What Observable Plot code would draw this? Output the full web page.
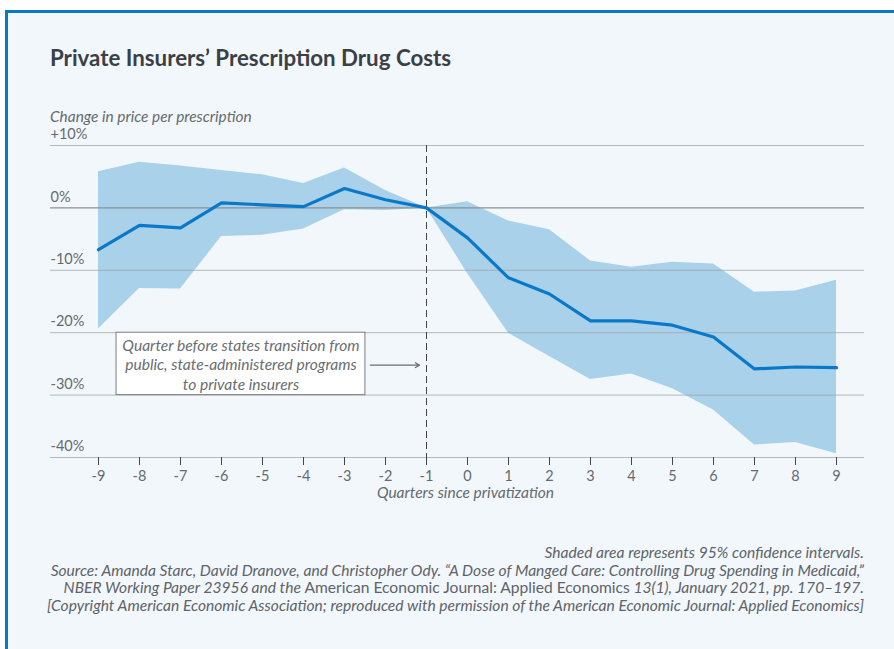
<!DOCTYPE html>
<html>
<head>
<meta charset="utf-8">
<script src="https://cdn.jsdelivr.net/npm/d3@7"></script>
<script src="https://cdn.jsdelivr.net/npm/@observablehq/plot@0.6"></script>
<style>
  html, body { margin: 0; padding: 0; background: #ffffff; width: 894px; height: 649px; overflow: hidden; }
  body { font-family: Lato, "Open Sans", sans-serif; position: relative; }
  .card { position: absolute; left: 5px; top: 10px; right: 0; bottom: 0; border-top: 3px solid #0a78c8; border-left: 3px solid #0a78c8; background: #f2f7fc; }
  .title { position: absolute; left: 42px; top: 33px; font-size: 22.3px; line-height: 24px; font-weight: 700; color: #3b4045; white-space: nowrap; }
  .sub { position: absolute; left: 42px; top: 94px; font-size: 15.4px; line-height: 18px; font-style: italic; color: #666a6e; white-space: nowrap; }
  #chart { position: absolute; left: -8px; top: 111px; }
  .cap { position: absolute; right: 30px; top: 531px; text-align: right; font-size: 15.6px; line-height: 17.6px; font-style: italic; color: #5f6368; white-space: nowrap; }
  .cap .up { font-style: normal; }
</style>
</head>
<body>
<div class="card">
  <div class="title">Private Insurers’ Prescription Drug Costs</div>
  <div class="sub">Change in price per prescription</div>
  <div id="chart"></div>
  <div class="cap">Shaded area represents 95% confidence intervals.<br>Source: Amanda Starc, David Dranove, and Christopher Ody. “A Dose of Manged Care: Controlling Drug Spending in Medicaid,”<br>NBER Working Paper 23956 and the <span class="up">American Economic Journal: Applied Economics</span> 13(1), January 2021, pp. 170–197.<br>[Copyright American Economic Association; reproduced with permission of the American Economic Journal: Applied Economics]</div>
</div>
<script>
const quarters = [-9, -8, -7, -6, -5, -4, -3, -2, -1, 0, 1, 2, 3, 4, 5, 6, 7, 8, 9];
const estimate = [-6.7, -2.8, -3.2, 0.8, 0.5, 0.2, 3.1, 1.3, 0, -4.8, -11.2, -13.8, -18.1, -18.1, -18.8, -20.7, -25.8, -25.5, -25.6];
const upper    = [5.8, 7.3, 6.7, 6.0, 5.3, 3.9, 6.4, 2.8, 0, 1.0, -2.1, -3.5, -8.5, -9.5, -8.7, -9.0, -13.5, -13.3, -11.6];
const lower    = [-19.4, -12.9, -13.0, -4.6, -4.4, -3.4, -0.3, -0.4, 0, -10.5, -20.1, -23.8, -27.5, -26.6, -29.0, -32.4, -38.0, -37.6, -39.4];

const yTicks = [10, 0, -10, -20, -30, -40];
const yTickLabels = ["+10%", "0%", "-10%", "-20%", "-30%", "-40%"];
const xTicks = quarters;

const eventQuarter = [-1];
const annotationText = ["Quarter before states transition from\npublic, state-administered programs\nto private insurers"];
const annotationBox = [{x1: -8.56, x2: -2.49, y1: -30, y2: -20}];
const annotationArrow = [{x1: -2.37, x2: -1.17, y: -25.2}];
const xLabel = ["Quarters since privatization"];

const data = quarters.map((q, i) => ({q, est: estimate[i], hi: upper[i], lo: lower[i]}));
const yLab = yTicks.map((v, i) => ({v, t: yTickLabels[i]}));

const chart = Plot.plot({
  width: 894,
  height: 386,
  marginLeft: 50,
  marginRight: 30,
  marginTop: 21,
  marginBottom: 53,
  style: {background: "transparent", fontFamily: "Lato, 'Open Sans', sans-serif"},
  x: {domain: [-9, 9], insetLeft: 48, insetRight: 28},
  y: {domain: [-40, 10]},
  marks: [
    Plot.areaY(data, {x: "q", y1: "lo", y2: "hi", fill: "#a9d1ea"}),
    Plot.ruleY(yTicks.filter(d => d !== 0), {stroke: "#9ea3a8", strokeOpacity: 0.75}),
    Plot.ruleY([0], {stroke: "#8b8f94", strokeWidth: 1.3}),
    Plot.ruleX(eventQuarter, {stroke: "#444", strokeDasharray: "7,4"}),
    Plot.axisX({ticks: xTicks, tickSize: 8, tickPadding: 5, tickFormat: d => String(d), label: null, stroke: "#444", fill: "#666a6e", fontSize: 14.5}),
    Plot.axisY({ticks: [], label: null}),
    Plot.text(yLab, {y: "v", text: "t", frameAnchor: "left", textAnchor: "start", dy: -11, fill: "#666a6e", fontSize: 14.5}),
    Plot.line(data, {x: "q", y: "est", stroke: "#0a78c8", strokeWidth: 3.2}),
    Plot.rect(annotationBox, {x1: "x1", x2: "x2", y1: "y1", y2: "y2", fill: "white", stroke: "#7a7e82"}),
    Plot.text(annotationText, {x: d => (annotationBox[0].x1 + annotationBox[0].x2) / 2, y: d => (annotationBox[0].y1 + annotationBox[0].y2) / 2, text: d => d, fontSize: 15.6, fontStyle: "italic", fill: "#6a6e72", lineHeight: 1.25, lineAnchor: "middle"}),
    Plot.arrow(annotationArrow, {x1: "x1", x2: "x2", y1: "y", y2: "y", stroke: "#6a6e72", strokeWidth: 1.2, headLength: 6, bend: 0}),
    Plot.text(xLabel, {text: d => d, frameAnchor: "bottom", dy: 40, dx: 8, fontSize: 15.5, fontStyle: "italic", fill: "#666a6e"})
  ]
});
document.getElementById("chart").appendChild(chart);
</script>
</body>
</html>
